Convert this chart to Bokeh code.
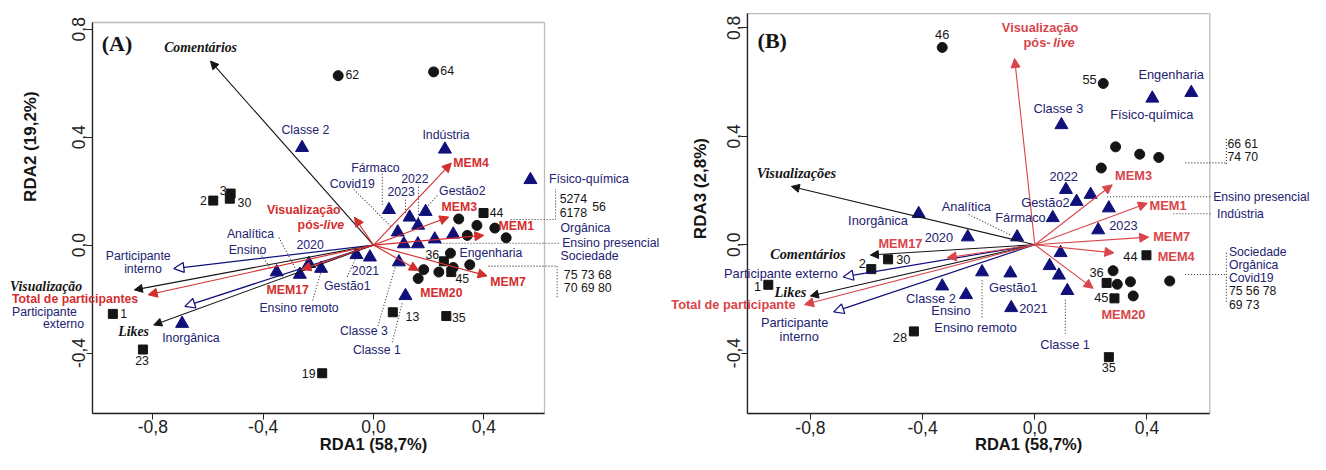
from bokeh.plotting import figure
from bokeh.models import (ColumnDataSource, Range1d, FixedTicker, Label, Arrow, BoxAnnotation,
                          NormalHead, CustomJSTickFormatter)
from bokeh.layouts import row
from bokeh.embed import file_html
from bokeh.resources import INLINE
from bokeh.core.properties import value

SANS = "Liberation Sans"
SERIF = "Liberation Serif"
NAVY = "#10107a"
NAVY_TXT = "#222270"
BLK = "#151515"
DOT = "#333333"

# ======================= Panel A data (RDA1 x RDA2) =======================
A_sq_id = ["2", "3", "30", "1", "23", "19", "13", "35", "36", "45", "44"]
A_sq_x = [-0.581, -0.518, -0.521, -0.945, -0.836, -0.186, 0.070, 0.264, 0.255, 0.282, 0.399]
A_sq_y = [0.165, 0.191, 0.172, -0.255, -0.387, -0.475, -0.249, -0.263, -0.060, -0.100, 0.119]

A_ci_id = ["62", "64", "52", "74", "61", "78", "56", "75", "73", "68", "70", "69", "80"]
A_ci_x = [-0.128, 0.218, 0.309, 0.375, 0.440, 0.340, 0.481, 0.279, 0.349, 0.289, 0.182, 0.237, 0.162]
A_ci_y = [0.628, 0.642, 0.097, 0.073, 0.063, 0.036, 0.027, -0.030, -0.073, -0.083, -0.091, -0.100, -0.124]

A_tri_name = ["Classe 2", "Indústria", "Físico-química", "Fármaco", "2023", "Gestão2", "2022",
              "Covid19", "Sociedade", "Ensino presencial", "Orgânica", "Engenharia", "Classe 3",
              "Classe 1", "Gestão1", "2021", "Ensino", "Analítica", "2020", "Ensino remoto", "Inorgânica"]
A_tri_x = [-0.259, 0.259, 0.569, 0.056, 0.131, 0.189, 0.162, 0.088, 0.110, 0.161, 0.222, 0.289,
           0.092, 0.116, -0.062, -0.013, -0.351, -0.267, -0.234, -0.190, -0.694]
A_tri_y = [0.361, 0.355, 0.242, 0.131, 0.103, 0.124, 0.073, 0.048, 0.004, 0.004, 0.022, 0.040,
           -0.063, -0.188, -0.036, -0.045, -0.100, -0.109, -0.069, -0.087, -0.291]

A_resp_name = ["Comentários", "Visualização", "Likes"]
A_resp_x = [-0.591, -0.867, -0.797]
A_resp_y = [0.682, -0.166, -0.296]

A_red_name = ["Total de participantes", "Visualização pós-live", "MEM4", "MEM3", "MEM1", "MEM7", "MEM20", "MEM17"]
A_red_x = [-0.817, -0.069, 0.282, 0.273, 0.400, 0.412, 0.163, -0.260]
A_red_y = [-0.184, 0.103, 0.304, 0.104, 0.036, -0.114, -0.094, -0.090]

A_env_name = ["Participante interno", "Participante externo"]
A_env_x = [-0.724, -0.684]
A_env_y = [-0.087, -0.227]

# ======================= Panel B data (RDA1 x RDA3) =======================
B_sq_id = ["36", "45", "44", "35", "28", "1", "2", "30"]
B_sq_x = [0.256, 0.284, 0.398, 0.264, -0.431, -0.950, -0.583, -0.523]
B_sq_y = [-0.141, -0.198, -0.039, -0.415, -0.320, -0.148, -0.090, -0.054]

B_ci_id = ["46", "55", "66", "61", "74", "70", "75", "56", "78", "69", "73"]
B_ci_x = [-0.330, 0.244, 0.288, 0.374, 0.442, 0.237, 0.279, 0.294, 0.341, 0.481, 0.351]
B_ci_y = [0.728, 0.595, 0.361, 0.334, 0.322, 0.283, -0.096, -0.146, -0.137, -0.134, -0.189]

B_tri_name = ["Engenharia", "Físico-química", "Classe 3", "2022", "Ensino presencial", "Gestão2",
              "Indústria", "Fármaco", "Analítica", "2020", "Inorgânica", "2023", "Sociedade",
              "Orgânica", "Covid19", "Classe 1", "Gestão1", "2021", "Ensino remoto", "Classe 2", "Ensino"]
B_tri_x = [0.558, 0.419, 0.095, 0.111, 0.199, 0.149, 0.264, 0.064, -0.063, -0.239, -0.414, 0.226,
           0.092, 0.053, 0.086, 0.116, -0.087, -0.084, -0.188, -0.330, -0.245]
B_tri_y = [0.561, 0.540, 0.442, 0.203, 0.185, 0.159, 0.135, 0.099, 0.028, 0.028, 0.114, 0.054,
           -0.030, -0.078, -0.113, -0.170, -0.105, -0.233, -0.101, -0.153, -0.185]

B_resp_name = ["Comentários", "Visualizações", "Likes"]
B_resp_x = [-0.586, -0.868, -0.800]
B_resp_y = [-0.038, 0.215, -0.189]

B_red_name = ["Total de participante", "Visualização pós-live", "MEM3", "MEM1", "MEM7", "MEM4", "MEM20", "MEM17"]
B_red_x = [-0.821, -0.072, 0.276, 0.401, 0.406, 0.282, 0.208, -0.312]
B_red_y = [-0.221, 0.687, 0.221, 0.153, 0.028, -0.030, -0.161, -0.048]

B_env_name = ["Participante externo", "Participante interno"]
B_env_x = [-0.683, -0.717]
B_env_y = [-0.119, -0.248]

# ======================= label layout (data units) =======================
A_layout = dict(
    box=(-1.019, 0.620, -0.624, 0.825),
    navy_c=(["Classe 2", "Indústria", "Fármaco", "Covid19", "2022", "2023", "Gestão2", "Analítica",
             "Ensino", "2020", "Ensino remoto", "Gestão1", "2021", "Classe 3", "Classe 1", "Engenharia",
             "Inorgânica", "Participante", "interno", "Participante", "externo"],
            [-0.247, 0.263, 0.007, -0.077, 0.150, 0.100, 0.322, -0.446, -0.457, -0.230, -0.270, -0.095,
             -0.029, -0.035, 0.012, 0.426, -0.662, -0.853, -0.836, -1.193, -1.124],
            [0.428, 0.407, 0.286, 0.228, 0.246, 0.197, 0.201, 0.040, -0.017, 0.001, -0.233, -0.151,
             -0.093, -0.320, -0.387, -0.029, -0.344, -0.041, -0.090, -0.247, -0.291]),
    navy_l=(["Físico-química", "Orgânica", "Ensino presencial", "Sociedade"],
            [0.636, 0.678, 0.684, 0.678], [0.246, 0.064, 0.007, -0.041]),
    navy_r=([], [], []),
    red_c=(["MEM4", "MEM3", "MEM1", "MEM7", "MEM20", "MEM17", "Total de participantes", "Visualização"],
           [0.354, 0.311, 0.518, 0.488, 0.246, -0.311, -1.082, -0.253],
           [0.304, 0.140, 0.070, -0.138, -0.176, -0.168, -0.199, 0.131]),
    red_r=(["pós-"], [-0.181], [0.076]),
    red_li=(["live"], [-0.181], [0.076]),
    resp=(["Comentários", "Visualização", "Likes"], [-0.627, -1.187, -0.870], [0.731, -0.152, -0.320]),
    tag=("(A)", -0.930, 0.748),
    site_c=(["2", "3", "30", "1", "23", "19", "13", "35", "36", "45", "44", "62", "64"],
            [-0.617, -0.545, -0.468, -0.906, -0.839, -0.235, 0.141, 0.309, 0.213, 0.322, 0.446, -0.077, 0.267],
            [0.165, 0.204, 0.157, -0.255, -0.427, -0.475, -0.265, -0.269, -0.033, -0.124, 0.119, 0.634, 0.649]),
    site_l=(["5274", "6178", "56", "75 73 68", "70 69 80"],
            [0.675, 0.675, 0.793, 0.690, 0.690], [0.173, 0.119, 0.143, -0.109, -0.160]),
    lead=([-0.071, 0.032, 0.163, 0.116, 0.231, -0.343, -0.417, -0.192, -0.095, 0.016, 0.068,
           0.497, 0.660, 0.243, 0.417, 0.666],
          [0.206, 0.264, 0.216, 0.168, 0.183, 0.028, -0.021, -0.105, -0.118, -0.300, -0.360,
           0.095, 0.095, 0.007, -0.078, -0.078],
          [0.062, 0.032, 0.163, 0.116, 0.195, -0.283, -0.373, -0.222, -0.065, 0.086, 0.104,
           0.660, 0.660, 0.672, 0.666, 0.666],
          [0.070, 0.143, 0.088, 0.114, 0.143, -0.087, -0.087, -0.209, -0.050, -0.057, -0.215,
           0.095, 0.208, 0.007, -0.078, -0.195]),
    xlab=("RDA1 (58,7%)", 0.0, -0.739),
    ylab=("RDA2 (19,2%)", -1.244, 0.365),
)

B_layout = dict(
    box=(-1.025, 0.624, -0.623, 0.853),
    navy_c=(["Engenharia", "Físico-química", "Classe 3", "2022", "Gestão2", "Fármaco", "Analítica", "2020",
             "Inorgânica", "2023", "Classe 2", "Ensino", "Ensino remoto", "Gestão1", "2021", "Classe 1",
             "Participante", "interno"],
            [0.486, 0.417, 0.084, 0.103, 0.038, -0.051, -0.244, -0.342, -0.559, 0.316, -0.370, -0.299,
             -0.211, -0.077, -0.005, 0.108, -0.856, -0.840],
            [0.627, 0.481, 0.501, 0.253, 0.155, 0.101, 0.140, 0.026, 0.090, 0.072, -0.197, -0.241,
             -0.304, -0.159, -0.236, -0.370, -0.287, -0.337]),
    navy_l=(["Ensino presencial", "Indústria", "Sociedade", "Orgânica", "Covid19"],
            [0.636, 0.650, 0.692, 0.692, 0.692], [0.177, 0.114, -0.026, -0.076, -0.124]),
    navy_r=(["Participante externo"], [-0.702], [-0.107]),
    red_c=(["Visualização", "MEM3", "MEM1", "MEM7", "MEM4", "MEM20", "MEM17"],
           [0.019, 0.352, 0.475, 0.488, 0.504, 0.316, -0.479],
           [0.802, 0.257, 0.146, 0.030, -0.042, -0.257, 0.006]),
    red_r=(["pós-", "Total de participante"], [0.056, -0.853], [0.746, -0.221]),
    red_li=(["live"], [0.066], [0.746]),
    resp=(["Visualizações", "Comentários", "Likes"], [-0.850, -0.809, -0.871], [0.263, -0.033, -0.173]),
    tag=("(B)", -0.936, 0.752),
    site_c=(["46", "55", "2", "30", "1", "28", "44", "36", "45", "35"],
            [-0.330, 0.195, -0.615, -0.469, -0.988, -0.481, 0.341, 0.220, 0.237, 0.264],
            [0.777, 0.611, -0.069, -0.056, -0.155, -0.344, -0.042, -0.103, -0.194, -0.454]),
    site_l=(["66 61", "74 70", "75 56 78", "69 73"],
            [0.687, 0.687, 0.692, 0.692], [0.372, 0.322, -0.172, -0.222]),
    lead=([-0.236, -0.188, 0.109, 0.537, 0.683, 0.258, 0.494, 0.535, 0.683],
          [0.111, -0.131, -0.203, 0.302, 0.298, 0.177, 0.114, -0.110, -0.030],
          [-0.087, -0.188, 0.109, 0.683, 0.683, 0.630, 0.632, 0.683, 0.683],
          [0.036, -0.275, -0.328, 0.302, 0.394, 0.177, 0.114, -0.110, -0.215]),
    xlab=("RDA1 (58,7%)", -0.022, -0.737),
    ylab=("RDA3 (2,8%)", -1.192, 0.207),
)

_font_prop = type(Label.lookup("text_font").property).__name__
_FONT_IS_SPEC = "Spec" in _font_prop


def txt(p, text, x, y, color, size, align="center", font=SANS, style="normal", angle=0.0):
    f = value(font) if _FONT_IS_SPEC else font
    p.add_layout(Label(x=x, y=y, text=text, text_align=align, text_baseline="middle",
                       text_color=color, text_font_size=f"{size}px", text_font=f,
                       text_font_style=style, angle=angle))


def txts(p, data, color, size, align="center", font=SANS, style="normal"):
    for t, x, y in zip(*data):
        txt(p, t, x, y, color, size, align, font, style)


def add_arrows(p, ex, ey, color, head, width=1.1):
    src = ColumnDataSource(dict(x0=[0.0] * len(ex), y0=[0.0] * len(ey), x1=list(ex), y1=list(ey)))
    p.add_layout(Arrow(end=head, x_start="x0", y_start="y0", x_end="x1", y_end="y1", source=src,
                       line_color=color, line_width=width))


def panel(width, height, xr, yr, sq, ci, tri, resp, red, env, lay, fs, red_col, fs_right=None):
    # the frame spans the whole canvas; the axes are pinned to the box edges
    p = figure(width=width, height=height, x_range=Range1d(*xr), y_range=Range1d(*yr),
               output_backend="svg", toolbar_location=None,
               min_border=0, min_border_left=0, min_border_right=0,
               min_border_top=0, min_border_bottom=0)
    p.grid.visible = False
    p.outline_line_color = None
    p.background_fill_color = "white"
    p.border_fill_color = "white"
    bl, br, bb, bt = lay["box"]
    p.add_layout(BoxAnnotation(left=bl, right=br, bottom=bb, top=bt, fill_color=None, fill_alpha=0,
                               line_color="#222222", line_width=1.3, level="underlay"))
    fmt = CustomJSTickFormatter(code="return tick.toFixed(1).replace('.', ',');")
    p.xaxis.ticker = FixedTicker(ticks=[-0.8, -0.4, 0.0, 0.4])
    p.yaxis.ticker = FixedTicker(ticks=[-0.4, 0.0, 0.4, 0.8])
    p.xaxis.fixed_location = bb
    p.yaxis.fixed_location = bl
    p.xaxis.bounds = (bl, br)
    p.yaxis.bounds = (bb, bt)
    p.axis.formatter = fmt
    p.yaxis.major_label_orientation = "vertical"
    p.axis.major_tick_out = 6
    p.axis.major_tick_in = 0
    p.axis.minor_tick_out = 0
    p.axis.minor_tick_in = 0
    p.axis.major_label_standoff = 1
    p.axis.axis_line_color = "#222222"
    p.axis.axis_line_width = 1.3
    p.axis.major_tick_line_color = "#222222"
    p.axis.major_label_text_font = SANS
    p.axis.major_label_text_font_size = "17.5px"
    p.axis.major_label_text_color = "#222222"

    # dotted leader lines and brackets
    lx0, ly0, lx1, ly1 = lay["lead"]
    p.segment(x0=lx0, y0=ly0, x1=lx1, y1=ly1, line_color=DOT, line_width=1.1, line_dash="1 2")

    # arrows
    add_arrows(p, env[1], env[2], NAVY,
               NormalHead(size=10, fill_color="white", line_color=NAVY, line_width=1.2), 1.2)
    add_arrows(p, resp[1], resp[2], BLK,
               NormalHead(size=8, fill_color=BLK, line_color=BLK, line_width=1))
    add_arrows(p, red[1], red[2], red_col,
               NormalHead(size=9, fill_color=red_col, line_color=red_col, line_width=1))

    # scores
    p.scatter(x=tri[1], y=tri[2], marker="triangle", size=13, fill_color=NAVY, line_color=NAVY)
    p.scatter(x=sq[1], y=sq[2], marker="square", size=9, fill_color=BLK, line_color=BLK)
    p.scatter(x=ci[1], y=ci[2], marker="circle", size=10, fill_color=BLK, line_color=BLK)

    # texts
    txts(p, lay["navy_c"], NAVY_TXT, fs)
    txts(p, lay["navy_l"], NAVY_TXT, fs_right or fs, align="left")
    txts(p, lay["navy_r"], NAVY_TXT, fs, align="right")
    txts(p, lay["red_c"], red_col, fs, style="bold")
    txts(p, lay["red_r"], red_col, fs, align="right", style="bold")
    txts(p, lay["red_li"], red_col, fs, align="left", style="bold italic")
    txts(p, lay["resp"], BLK, fs + 1.5, font=SERIF, style="bold italic")
    txts(p, lay["site_c"], BLK, fs)
    txts(p, lay["site_l"], BLK, fs_right or fs, align="left")
    t, tx, ty = lay["tag"]
    txt(p, t, tx, ty, BLK, 22, font=SERIF, style="bold")
    t, tx, ty = lay["xlab"]
    txt(p, t, tx, ty, BLK, 16.5, style="bold")
    t, tx, ty = lay["ylab"]
    txt(p, t, tx, ty, BLK, 17, style="bold", angle=1.5708)
    return p


# canvas A: 660 x 454 px, canvas B: 650 x 454 px (ranges span the whole canvas)
pA = panel(660, 454, (-1.35243, 1.04061), (-0.77613, 0.90660),
           (A_sq_id, A_sq_x, A_sq_y), (A_ci_id, A_ci_x, A_ci_y), (A_tri_name, A_tri_x, A_tri_y),
           (A_resp_name, A_resp_x, A_resp_y), (A_red_name, A_red_x, A_red_y),
           (A_env_name, A_env_x, A_env_y), A_layout, 12.3, "#d42e2e")

pB = panel(650, 454, (-1.33440, 0.98289), (-0.77417, 0.90111),
           (B_sq_id, B_sq_x, B_sq_y), (B_ci_id, B_ci_x, B_ci_y), (B_tri_name, B_tri_x, B_tri_y),
           (B_resp_name, B_resp_x, B_resp_y), (B_red_name, B_red_x, B_red_y),
           (B_env_name, B_env_x, B_env_y), B_layout, 12.8, "#d8454b", fs_right=12.2)

layout = row(pA, pB)
open("out.html", "w", encoding="utf-8").write(file_html(layout, INLINE))
